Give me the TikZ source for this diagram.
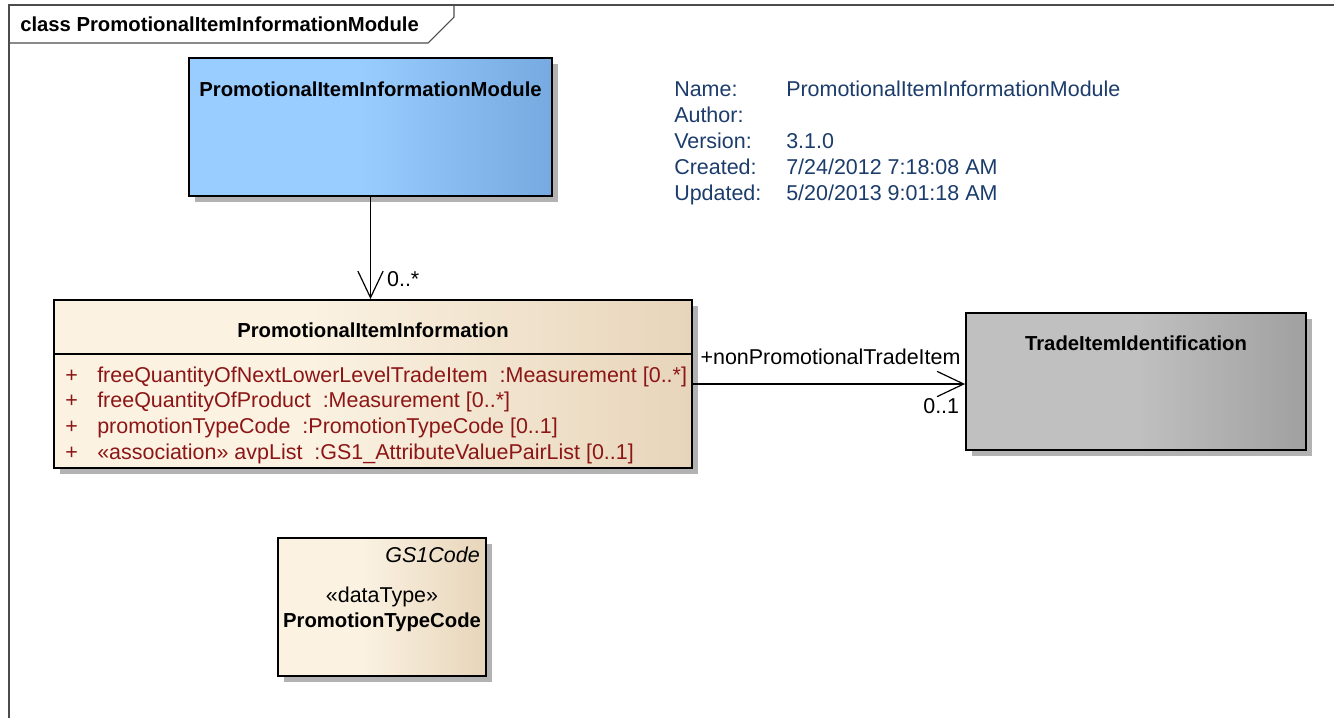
\documentclass[tikz,border=0pt]{standalone}
\usepackage{fontspec}
\setmainfont{Liberation Sans}
\usetikzlibrary{arrows.meta,positioning,shadows}

\definecolor{modblueL}{RGB}{154,205,255}
\definecolor{modblueR}{RGB}{118,170,224}
\definecolor{creamL}{RGB}{251,242,226}
\definecolor{creamR}{RGB}{231,213,186}
\definecolor{greyL}{RGB}{192,192,192}
\definecolor{greyR}{RGB}{160,160,160}
\definecolor{attrred}{RGB}{140,22,22}
\definecolor{infoblue}{RGB}{28,60,108}

% flat on the left, darkening towards the right edge
\pgfdeclarehorizontalshading{blueshade}{100bp}{color(0bp)=(modblueL); color(25bp)=(modblueL); color(48bp)=(modblueL); color(75bp)=(modblueR); color(100bp)=(modblueR)}
\pgfdeclarehorizontalshading{creamshade}{100bp}{color(0bp)=(creamL); color(25bp)=(creamL); color(45bp)=(creamL); color(75bp)=(creamR); color(100bp)=(creamR)}
\pgfdeclarehorizontalshading{greyshade}{100bp}{color(0bp)=(greyL); color(25bp)=(greyL); color(50bp)=(greyL); color(75bp)=(greyR); color(100bp)=(greyR)}

\newcommand\umltitle{\fontsize{15.2}{18}\selectfont\bfseries}
\newcommand\umltext{\fontsize{16.1}{18}\selectfont}

\tikzset{
  umlbox/.style={draw,line width=1.4pt,rectangle,inner sep=0pt,
    drop shadow={shadow xshift=4.5pt,shadow yshift=-4.5pt,fill=black!30,opacity=1}},
  bluebox/.style={umlbox,shading=blueshade},
  creambox/.style={umlbox,shading=creamshade},
  greybox/.style={umlbox,shading=greyshade},
  boxtitle/.style={font=\umltitle,inner sep=0pt,anchor=base},
  attr/.style={font=\umltext,text=attrred,inner sep=0pt,anchor=base west},
  info/.style={font=\umltext,text=infoblue,inner sep=0pt,anchor=base west},
  assoc/.style={line width=0.9pt,-{Straight Barb[length=20pt,width=19pt,line width=0.9pt]}},
  endlabel/.style={font=\umltext,inner sep=0pt}
}

\begin{document}
\begin{tikzpicture}[x=0.75pt,y=-0.75pt,line join=miter]
\useasboundingbox[fill=white] (0,0) rectangle (1334,718);
% diagram frame with its name tab
\draw[line width=0.8pt,black!70] (9,718) -- (9,5) -- (1334,5);
\draw[line width=0.8pt,black!70] (9,43) -- (428,43) -- (454,17) -- (454,5);
\node[font=\umltitle,inner sep=0pt,anchor=base west] (frametitle) at (20,31) {class PromotionalItemInformationModule};

% classes
\node[bluebox,minimum width=363*0.75pt,minimum height=138*0.75pt] (module) at (370.5,127) {};
\node[boxtitle] (moduletitle) at (370.5,96) {PromotionalItemInformationModule};

\node[creambox,minimum width=638*0.75pt,minimum height=168*0.75pt] (iteminfo) at (373,384) {};
\draw[line width=1.4pt] (54,354) -- (692,354);
\node[boxtitle] (iteminfotitle) at (373,337) {PromotionalItemInformation};
\foreach \a [count=\k from 0] in {freeQuantityOfNextLowerLevelTradeItem \ :Measurement [0..*],
    freeQuantityOfProduct \ :Measurement [0..*],
    promotionTypeCode \ :PromotionTypeCode [0..1],
    «association» avpList \ :GS1\_AttributeValuePairList [0..1]} {
  \node[attr] (plus\k) at (65,{382+25.7*\k}) {+};
  \node[attr] (attr\k) at (97,{382+25.7*\k}) {\a};
}

\node[greybox,minimum width=340*0.75pt,minimum height=137*0.75pt] (tradeid) at (1136,381.5) {};
\node[boxtitle] (tradeidtitle) at (1136,350) {TradeItemIdentification};

\node[creambox,minimum width=208*0.75pt,minimum height=138*0.75pt] (ptcode) at (382,607) {};
\node[font=\umltext\itshape,inner sep=0pt,anchor=base east] (ptcodeparent) at (480,562) {GS1Code};
\node[font=\umltext,inner sep=0pt,anchor=base] (ptcodestereo) at (382,602) {«dataType»};
\node[boxtitle] (ptcodetitle) at (382,627) {PromotionTypeCode};

% model notes
\foreach \l [count=\k from 0] in {Name:,Author:,Version:,Created:,Updated:}
  \node[info] (infolab\k) at (674,{96+26.2*\k}) {\l};
\node[info] (infoname) at (786,96) {PromotionalItemInformationModule};
\node[info] (infover) at (786,148.4) {3.1.0};
\node[info] (infocreated) at (786,174.6) {7/24/2012 7:18:08 AM};
\node[info] (infoupdated) at (786,200.8) {5/20/2013 9:01:18 AM};

% associations
\draw[assoc] (module.south) -- (module.south |- iteminfo.north)
  node[endlabel,pos=0.8,anchor=west,xshift=12pt] (modmult) {0..*};
\draw[assoc] (iteminfo.east) -- (tradeid.west |- iteminfo.east)
  node[endlabel,pos=1,anchor=base east,xshift=-3pt,yshift=15pt] (rolename) {+nonPromotionalTradeItem}
  node[endlabel,pos=1,anchor=base east,xshift=-4pt,yshift=-22pt] (trademult) {0..1};
\end{tikzpicture}
\end{document}
